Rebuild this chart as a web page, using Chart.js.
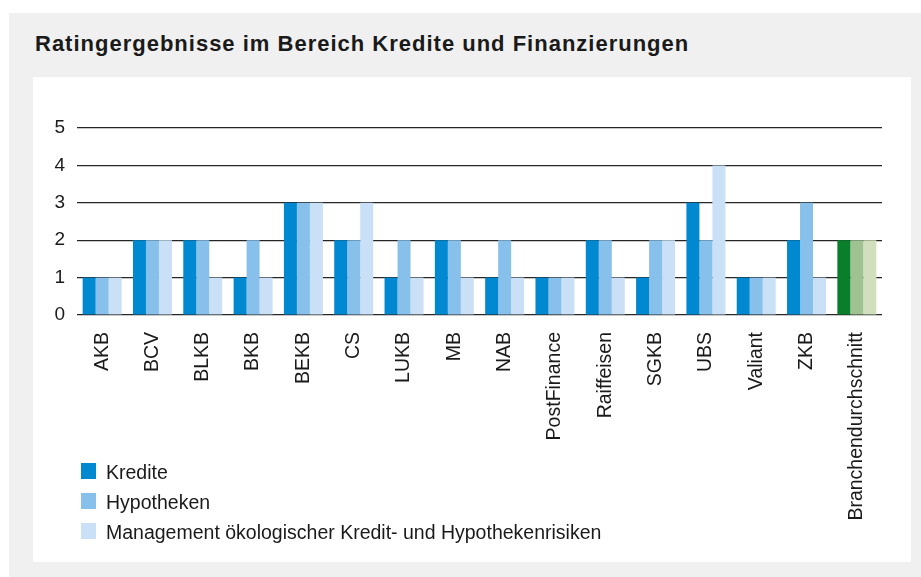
<!DOCTYPE html>
<html>
<head>
<meta charset="utf-8">
<script src="https://cdn.jsdelivr.net/npm/chart.js@4/dist/chart.umd.min.js"></script>
<style>
  body { margin: 0; background: #fff; font-family: "Liberation Sans", Arial, sans-serif; }
  #frame { position: absolute; left: 9px; top: 13px; width: 912px; height: 564px; background: #f0f0f0; }
  #title { position: absolute; left: 35px; top: 33px; margin: 0; font-size: 22px; line-height: 22px;
           font-weight: bold; letter-spacing: 1px; color: #1a1a1a; white-space: nowrap; }
  #panel { position: absolute; left: 33px; top: 77px; width: 878px; height: 485px; background: #fff; }
  #chart { position: absolute; left: 0; top: 0; }
  #legend { position: absolute; left: 48px; top: 386px; }
  .item { height: 29.8px; display: flex; align-items: flex-start; }
  .box { width: 15px; height: 16px; margin-right: 10px; }
  .label { font-size: 19.5px; line-height: 16px; position: relative; top: 1px; color: #1a1a1a; white-space: nowrap; }
</style>
</head>
<body>
<div id="frame"></div>
<h1 id="title">Ratingergebnisse im Bereich Kredite und Finanzierungen</h1>
<div id="panel">
  <canvas id="chart" width="878" height="485"></canvas>
  <div id="legend"></div>
</div>
<script>
// Ratings per bank, 0..5 scale
const categories = ['AKB', 'BCV', 'BLKB', 'BKB', 'BEKB', 'CS', 'LUKB', 'MB', 'NAB',
  'PostFinance', 'Raiffeisen', 'SGKB', 'UBS', 'Valiant', 'ZKB', 'Branchendurchschnitt'];
const kredite     = [1, 2, 2, 1, 3, 2, 1, 2, 1, 1, 2, 1, 3, 1, 2, 2];
const hypotheken  = [1, 2, 2, 2, 3, 2, 2, 2, 2, 1, 2, 2, 2, 1, 3, 2];
const management  = [1, 2, 1, 1, 3, 3, 1, 1, 1, 1, 1, 2, 4, 1, 1, 2];
const yTicks = [0, 1, 2, 3, 4, 5];

const seriesNames = ['Kredite', 'Hypotheken', 'Management ökologischer Kredit- und Hypothekenrisiken'];
const blues  = ['#0088d1', '#87c1eb', '#c9e0f6'];
const greens = ['#0a7f2b', '#9ec290', '#d1dfbd'];
const AVG = 'Branchendurchschnitt';
const FONT = '"Liberation Sans", Arial, sans-serif';

function barColors(i) {
  return categories.map(c => c === AVG ? greens[i] : blues[i]);
}

const series = [kredite, hypotheken, management];

const chart = new Chart(document.getElementById('chart'), {
  type: 'bar',
  data: {
    labels: categories,
    datasets: series.map((vals, i) => ({
      label: seriesNames[i],
      data: vals,
      backgroundColor: barColors(i),
      borderWidth: 0,
      barPercentage: 1,
      categoryPercentage: 0.775,
    })),
  },
  options: {
    responsive: false,
    animation: false,
    layout: { padding: { top: 51, right: 29, bottom: 0, left: 0 } },
    plugins: { legend: { display: false }, tooltip: { enabled: false } },
    scales: {
      x: {
        grid: { display: false, drawTicks: false },
        border: { display: false },
        ticks: {
          autoSkip: false, minRotation: 90, maxRotation: 90, padding: 17,
          color: '#1a1a1a', font: { size: 19.5, family: FONT },
        },
        afterFit: s => { s.height = 247; },
      },
      y: {
        min: yTicks[0],
        max: yTicks[yTicks.length - 1],
        afterBuildTicks: s => { s.ticks = yTicks.map(v => ({ value: v })); },
        grid: { color: '#262626', lineWidth: 1.2, drawTicks: false },
        border: { display: false },
        ticks: {
          padding: 12, color: '#1a1a1a',
          font: { size: 19, family: FONT },
        },
        afterFit: s => { s.width = 44; },
      },
    },
  },
});

// legend built from the datasets (blue swatches)
const legend = document.getElementById('legend');
chart.data.datasets.forEach((ds, i) => {
  const row = document.createElement('div');
  row.className = 'item';
  row.innerHTML = '<div class="box" style="background:' + blues[i] + '"></div><div class="label"></div>';
  row.querySelector('.label').textContent = ds.label;
  legend.appendChild(row);
});
</script>
</body>
</html>
